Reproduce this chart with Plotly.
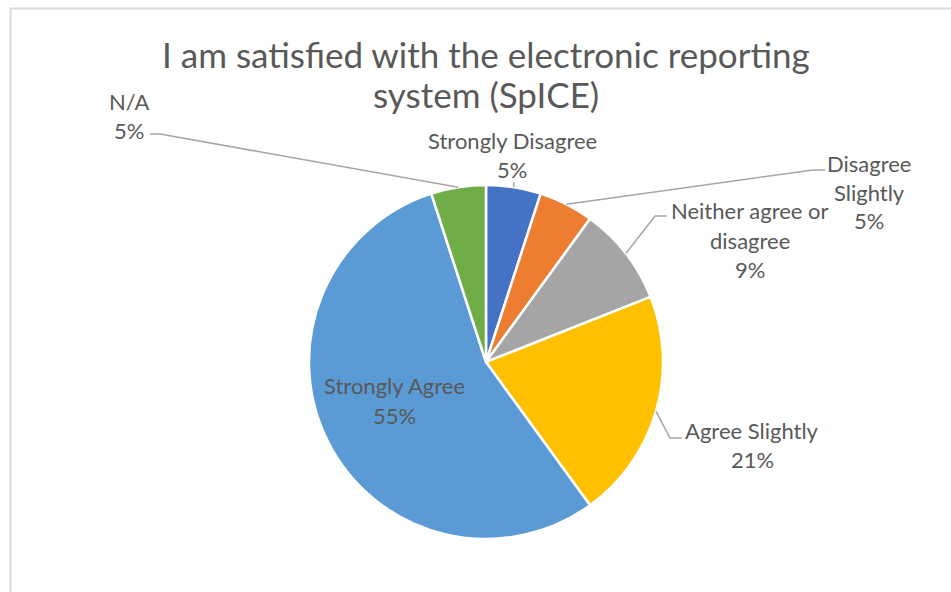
import math
import plotly.graph_objects as go

# Survey responses (percent of respondents)
categories = ["Strongly Disagree", "Disagree Slightly", "Neither agree or disagree",
              "Agree Slightly", "Strongly Agree", "N/A"]
label_lines = [["Strongly Disagree"], ["Disagree", "Slightly"], ["Neither agree or", "disagree"],
               ["Agree Slightly"], ["Strongly Agree"], ["N/A"]]
values = [5, 5, 9, 21, 55, 5]
colors = ["#4472C4", "#ED7D31", "#A5A5A5", "#FFC000", "#5B9BD5", "#70AD47"]

W, H = 951, 592
TEXT = "#595959"
FONT = "Lato"

# Pie placement in pixels
cx, cy, r = 486, 362, 177


def px(x):
    return x / W


def py(y):
    return 1 - y / H


fig = go.Figure(go.Pie(
    labels=categories,
    values=values,
    sort=False,
    direction="clockwise",
    rotation=0,
    marker=dict(colors=colors, line=dict(color="white", width=2.5)),
    textinfo="none",
    hoverinfo="label+percent",
    showlegend=False,
    domain=dict(x=[px(cx - r), px(cx + r)], y=[py(cy + r), py(cy - r)]),
))

# Label anchor (centre of first text line, pixels) and leader-line elbow per slice
label_pos = [(512, 140), (869, 163), (750, 211), (752, 430), (394, 386), (129, 101)]
elbows = [None, [(813, 170), (825, 170)], [(655, 216), (667, 216)],
          [(670, 438), (682, 438)], None, [(160, 134), (150, 134)]]
line_gap = 29

total = sum(values)
start = 0.0
shapes = []
annotations = []
for i, v in enumerate(values):
    frac = v / total
    mid = (start + frac / 2) * 2 * math.pi
    start += frac
    ex = cx + r * math.sin(mid)
    ey = cy - r * math.cos(mid)
    lx, ly = label_pos[i]
    lines = label_lines[i] + [f"{v}%"]
    for k, t in enumerate(lines):
        annotations.append(dict(
            x=px(lx), y=py(ly + k * line_gap), xref="paper", yref="paper",
            text=t, showarrow=False, xanchor="center", yanchor="middle",
            font=dict(family=FONT, size=22, color=TEXT)))
    if elbows[i] is not None:
        pts = [(ex, ey)] + elbows[i]
        path = "M " + " L ".join(f"{px(x)},{py(y)}" for x, y in pts)
        shapes.append(dict(type="path", path=path, xref="paper", yref="paper",
                           line=dict(color="#A6A6A6", width=1.5)))
    elif i == 0:
        # short tick from the value text to the slice edge
        shapes.append(dict(type="line", xref="paper", yref="paper",
                           x0=px(ex), y0=py(ey), x1=px(ex), y1=py(ey - 5),
                           line=dict(color="#A6A6A6", width=1.5)))

# Chart title, one annotation per line
title_lines = ["I am satisfied with the electronic reporting", "system (SpICE)"]
for k, t in enumerate(title_lines):
    annotations.append(dict(
        x=px(486), y=py(54 + k * 40), xref="paper", yref="paper",
        text=t, showarrow=False, xanchor="center", yanchor="middle",
        font=dict(family=FONT, size=35, color=TEXT)))

# Chart-area border
shapes.append(dict(type="rect", xref="paper", yref="paper",
                   x0=px(10.5), y0=-0.2, x1=1.2, y1=py(8.5),
                   line=dict(color="#D9D9D9", width=2), fillcolor="rgba(0,0,0,0)",
                   layer="below"))

fig.update_layout(
    width=W, height=H,
    margin=dict(l=0, r=0, t=0, b=0),
    paper_bgcolor="white",
    plot_bgcolor="white",
    shapes=shapes,
    annotations=annotations,
)

fig.write_html("out.html")
